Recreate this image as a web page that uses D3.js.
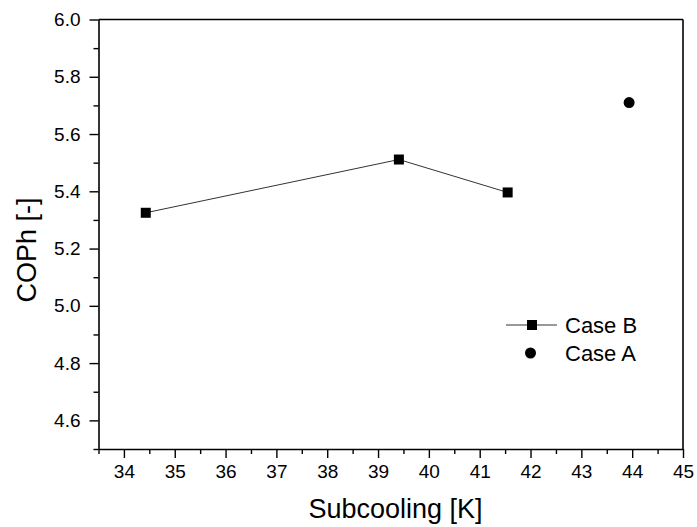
<!DOCTYPE html>
<html>
<head>
<meta charset="utf-8">
<script src="https://cdn.jsdelivr.net/npm/d3@7"></script>
<style>
  body { margin: 0; background: #fff; }
  text { font-family: "Liberation Sans", Arial, sans-serif; }
</style>
</head>
<body>
<div id="chart"></div>
<script>
// Data
const caseB_x = [34.43, 39.41, 41.55];
const caseB_y = [5.325, 5.511, 5.396];
const caseA_x = [43.94];
const caseA_y = [5.71];
const xTicks = [34, 35, 36, 37, 38, 39, 40, 41, 42, 43, 44, 45];
const yTicks = [4.6, 4.8, 5.0, 5.2, 5.4, 5.6, 5.8, 6.0];

const W = 697, H = 527;
const margin = { top: 19.5, right: 14, bottom: 78, left: 98.5 },
    width = W - margin.left - margin.right,
    height = H - margin.top - margin.bottom;

const svg = d3.select("#chart")
    .append("svg")
    .attr("width", W)
    .attr("height", H)
    .append("g")
    .attr("transform", `translate(${margin.left},${margin.top})`);

const x = d3.scaleLinear().domain([33.5, 45]).range([0, width]);
const y = d3.scaleLinear().domain([4.5, 6.0]).range([height, 0]);

// minor ticks
const xMinor = d3.range(33.5, 45.01, 0.5).filter(v => Math.abs(v - Math.round(v)) > 0.01);
const yMinor = d3.range(4.5, 6.01, 0.1).filter(v => !yTicks.some(t => Math.abs(t - v) < 0.01));

svg.append("g")
    .attr("transform", `translate(0,${height})`)
    .call(d3.axisBottom(x).tickValues(xMinor).tickSize(5).tickFormat(""))
    .call(g => g.select(".domain").remove())
    .selectAll("line").attr("stroke-width", 1.4);

svg.append("g")
    .attr("transform", `translate(0,${height})`)
    .call(d3.axisBottom(x).tickValues(xTicks).tickSize(9).tickPadding(7).tickSizeOuter(0))
    .call(g => g.select(".domain").attr("stroke-width", 1.6))
    .call(g => g.selectAll("line").attr("stroke-width", 1.4))
    .selectAll("text")
    .attr("font-size", 19)
    .attr("fill", "#000")
    .attr("font-family", "Liberation Sans, Arial, sans-serif");

svg.append("g")
    .call(d3.axisLeft(y).tickValues(yMinor).tickSize(5).tickFormat(""))
    .call(g => g.select(".domain").remove())
    .selectAll("line").attr("stroke-width", 1.4);

svg.append("g")
    .call(d3.axisLeft(y).tickValues(yTicks).tickSize(9).tickPadding(9).tickSizeOuter(0).tickFormat(d3.format(".1f")))
    .call(g => g.select(".domain").attr("stroke-width", 1.6))
    .call(g => g.selectAll("line").attr("stroke-width", 1.4))
    .selectAll("text")
    .attr("font-size", 19)
    .attr("fill", "#000")
    .attr("font-family", "Liberation Sans, Arial, sans-serif");

// top and right frame
svg.append("line").attr("x1", 0).attr("x2", width).attr("y1", 0).attr("y2", 0)
    .attr("stroke", "#000").attr("stroke-width", 1.6);
svg.append("line").attr("x1", width).attr("x2", width).attr("y1", 0).attr("y2", height)
    .attr("stroke", "#000").attr("stroke-width", 1.6);

// Case B line
const caseB = caseB_x.map((d, i) => ({ x: d, y: caseB_y[i] }));
svg.append("path")
    .datum(caseB)
    .attr("fill", "none")
    .attr("stroke", "#333")
    .attr("stroke-width", 1)
    .attr("d", d3.line().x(d => x(d.x)).y(d => y(d.y)));

svg.selectAll(".sq")
    .data(caseB)
    .enter().append("rect")
    .attr("x", d => x(d.x) - 5)
    .attr("y", d => y(d.y) - 5)
    .attr("width", 10)
    .attr("height", 10)
    .attr("fill", "#000");

const caseA = caseA_x.map((d, i) => ({ x: d, y: caseA_y[i] }));
svg.selectAll(".dot")
    .data(caseA)
    .enter().append("circle")
    .attr("cx", d => x(d.x))
    .attr("cy", d => y(d.y))
    .attr("r", 5.5)
    .attr("fill", "#000");

// Axis titles
svg.append("text")
    .attr("x", 395.5 - margin.left)
    .attr("y", 518 - margin.top)
    .attr("text-anchor", "middle")
    .attr("font-size", 27)
    .text("Subcooling [K]");

svg.append("text")
    .attr("transform", `translate(${36 - margin.left},${250 - margin.top}) rotate(-90)`)
    .attr("text-anchor", "middle")
    .attr("font-size", 27)
    .text("COPh [-]");

// Legend
const lx = 506 - margin.left, ly = 325 - margin.top;
const legend = svg.append("g").attr("transform", `translate(${lx},${ly})`);
legend.append("line").attr("x1", 0).attr("x2", 51).attr("y1", 0).attr("y2", 0)
    .attr("stroke", "#333").attr("stroke-width", 1);
legend.append("rect").attr("x", 21).attr("y", -5).attr("width", 10).attr("height", 10).attr("fill", "#000");
legend.append("text").attr("x", 59).attr("y", 0).attr("dy", "0.35em").attr("font-size", 22).text("Case B");
legend.append("circle").attr("cx", 24.5).attr("cy", 28).attr("r", 5.5).attr("fill", "#000");
legend.append("text").attr("x", 59).attr("y", 28).attr("dy", "0.35em").attr("font-size", 22).text("Case A");
</script>
</body>
</html>
